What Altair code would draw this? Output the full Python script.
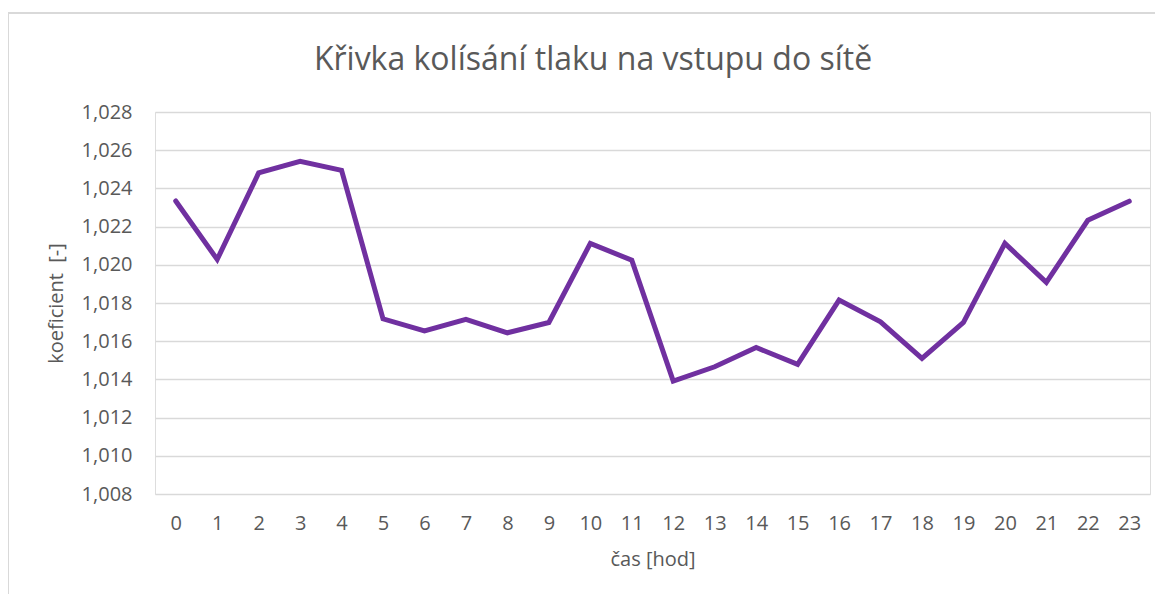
import altair as alt
import pandas as pd

hours = list(range(24))
koef = [1.02334, 1.02028, 1.02481, 1.02542, 1.02495, 1.01717, 1.01654, 1.01714,
        1.01644, 1.01698, 1.02112, 1.02024, 1.01391, 1.01466, 1.01567, 1.01479,
        1.01815, 1.01701, 1.01510, 1.01698, 1.02112, 1.01908, 1.02233, 1.02333]
y_ticks = [1.008, 1.010, 1.012, 1.014, 1.016, 1.018, 1.020, 1.022, 1.024, 1.026, 1.028]

title_text = "Křivka kolísání tlaku na vstupu do sítě"
x_title = "čas [hod]"
y_title = "koeficient\u00a0 [-]"

df = pd.DataFrame({"hod": hours, "k": koef})
title_df = pd.DataFrame({"t": [title_text]})

FONT = "Open Sans"
GREY = "#595959"

line = alt.Chart(df).mark_line(color="#7030A0", strokeWidth=5, strokeJoin="miter", strokeCap="round").encode(
    x=alt.X("hod:O", title=x_title,
            scale=alt.Scale(paddingInner=0, paddingOuter=0),
            axis=alt.Axis(labelAngle=0, ticks=False, domain=False, grid=False,
                          labelFont=FONT, labelFontSize=20, labelColor=GREY,
                          labelPadding=19, titleFont=FONT, titleFontSize=20,
                          titleColor=GREY, titleFontWeight="normal", titlePadding=16)),
    y=alt.Y("k:Q", title=y_title,
            scale=alt.Scale(domain=[1.008, 1.028], nice=False, zero=False),
            axis=alt.Axis(values=y_ticks, ticks=False, domain=False,
                          labelExpr="replace(format(datum.value, '.3f'), '.', ',')",
                          labelFont=FONT, labelFontSize=20, labelColor=GREY,
                          labelPadding=23, gridColor="#d9d9d9", gridWidth=1.3,
                          titleFont=FONT, titleFontSize=20, titleColor=GREY,
                          titleFontWeight="normal", titlePadding=15)),
)

title_mark = alt.Chart(title_df).mark_text(
    font=FONT, fontSize=32, color=GREY, align="center", baseline="alphabetic"
).encode(text="t:N", x=alt.value(438), y=alt.value(-42))

border_top = alt.Chart(df).mark_rule(color="#d9d9d9", strokeWidth=1.5).encode(
    x=alt.value(-147), x2=alt.value(1010), y=alt.value(-99))
border_left = alt.Chart(df).mark_rule(color="#d9d9d9", strokeWidth=1.5).encode(
    x=alt.value(-147), y=alt.value(-99), y2=alt.value(490))

chart = alt.layer(border_top, border_left, title_mark, line).properties(
    width=995, height=382,
    autosize=alt.AutoSizeParams(type="none"),
    padding={"left": 147, "top": 104, "right": 5, "bottom": 100},
).configure_view(stroke=None).configure(background="white")

chart.save("out.html", embed_options={"renderer": "svg", "actions": False})
